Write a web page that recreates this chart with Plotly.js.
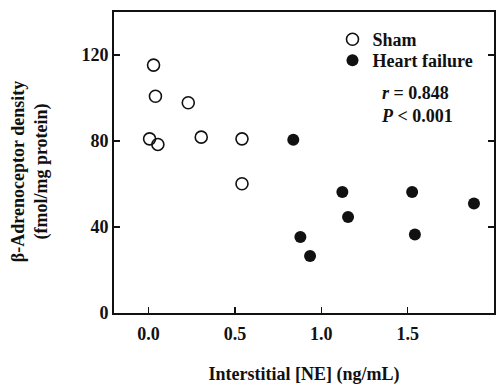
<!DOCTYPE html>
<html>
<head>
<meta charset="utf-8">
<script src="https://cdn.plot.ly/plotly-3.0.1.min.js"></script>
<style>html,body{margin:0;padding:0;background:#fff;}#chart{width:504px;height:385px;}</style>
</head>
<body>
<div id="chart"></div>
<script>
var shamX = [0.029, 0.040, 0.230, 0.006, 0.054, 0.305, 0.541, 0.541];
var shamY = [115.3, 100.8, 97.8, 81.0, 78.4, 81.8, 81.0, 60.1];
var hfX = [0.838, 0.879, 0.935, 1.122, 1.155, 1.526, 1.542, 1.884];
var hfY = [80.6, 35.4, 26.5, 56.3, 44.7, 56.3, 36.5, 50.9];
var xTicks = [0, 0.5, 1.0, 1.5, 2.0];
var xTickLabels = ['0.0', '0.5', '1.0', '1.5', '2.0'];
var yTicks = [0, 40, 80, 120];
var yTickLabels = ['0', '40', '80', '120'];

var FONT = 'Liberation Serif, Times New Roman, serif';
var font = {family: FONT, size: 18, color: '#111', weight: 'bold'};

var traces = [
  {x: shamX, y: shamY, mode: 'markers', type: 'scatter', name: 'Sham', legend: 'legend',
   marker: {symbol: 'circle-open', size: 12, color: '#111', line: {width: 1.6, color: '#111'}}},
  {x: hfX, y: hfY, mode: 'markers', type: 'scatter', name: 'Heart failure', legend: 'legend2',
   marker: {symbol: 'circle', size: 12, color: '#111'}}
];

var legendBase = {xanchor: 'left', yanchor: 'top', bgcolor: 'rgba(0,0,0,0)', font: font};

var layout = {
  width: 504, height: 385,
  margin: {l: 114, r: 10, t: 12, b: 72},
  paper_bgcolor: '#fff', plot_bgcolor: '#fff',
  font: font,
  showlegend: true,
  legend: Object.assign({x: 0.575, y: 0.97}, legendBase),
  legend2: Object.assign({x: 0.575, y: 0.97 - 21 / 300.7}, legendBase),
  xaxis: {range: [-0.2, 2.0], tickvals: xTicks, ticktext: xTickLabels,
          ticks: 'inside', ticklen: 6, tickwidth: 1.5, tickcolor: '#111',
          showline: true, linewidth: 2, linecolor: '#111', mirror: true,
          showgrid: false, zeroline: false, tickfont: font, ticklabelstandoff: 3,
          title: {text: 'Interstitial [NE] (ng/mL)', font: font, standoff: 28}},
  yaxis: {range: [0, 140], tickvals: yTicks, ticktext: yTickLabels,
          ticks: 'inside', ticklen: 6, tickwidth: 1.5, tickcolor: '#111',
          showline: true, linewidth: 2, linecolor: '#111', mirror: 'ticks',
          showgrid: false, zeroline: false, tickfont: font},
  annotations: [
    {xref: 'paper', yref: 'paper', x: (30 - 114) / 380, y: (312.7 - 172) / 300.7,
     text: 'β-Adrenoceptor density<br>(fmol/mg protein)', textangle: -90, showarrow: false,
     font: font, xanchor: 'center', yanchor: 'middle'},
    {xref: 'paper', yref: 'paper', x: (379 - 114) / 380, y: (312.7 - 104) / 300.7,
     text: '<i>r</i> = 0.848<br><i>P</i> < 0.001', showarrow: false, align: 'left',
     font: font, xanchor: 'left', yanchor: 'middle'}
  ]
};

Plotly.newPlot('chart', traces, layout, {staticPlot: true, displayModeBar: false});
</script>
</body>
</html>
